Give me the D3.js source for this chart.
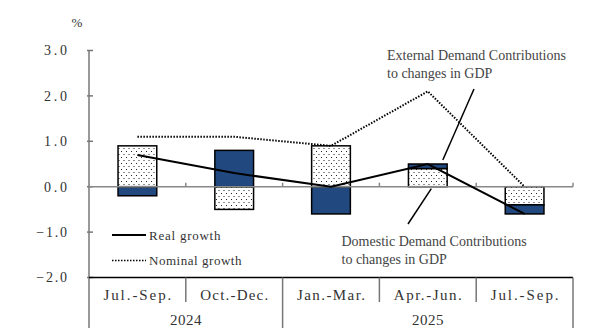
<!DOCTYPE html>
<html>
<head>
<meta charset="utf-8">
<script src="https://cdn.jsdelivr.net/npm/d3@7"></script>
<style>
  body { margin: 0; background: #fff; }
  text { font-family: "Liberation Serif", "DejaVu Serif", serif; fill: #333; }
</style>
</head>
<body>
<svg id="chart"></svg>
<script>
// quarters and years
var quarters = ["Jul.-Sep.", "Oct.-Dec.", "Jan.-Mar.", "Apr.-Jun.", "Jul.-Sep."];
var years = [{ label: "2024", from: 0, to: 2 }, { label: "2025", from: 2, to: 5 }];

// contributions (% points) and growth rates (%)
var domestic = [0.9, -0.5, 0.9, 0.4, -0.4];
var external = [-0.2, 0.8, -0.6, 0.1, -0.2];
var realGrowth = [0.7, 0.3, 0.0, 0.5, -0.6];
var nominalGrowth = [1.1, 1.1, 0.9, 2.1, 0.0];

var yTicks = [3, 2, 1, 0, -1, -2];

var width = 613, height = 336;
var margin = { top: 50.5, left: 89, right: 40, bottom: 58.5 };

var svg = d3.select("#chart").attr("width", width).attr("height", height);

var defs = svg.append("defs");
var pat = defs.append("pattern")
    .attr("id", "dots")
    .attr("patternUnits", "userSpaceOnUse")
    .attr("width", 5).attr("height", 6);
pat.append("rect").attr("width", 5).attr("height", 6).attr("fill", "#fff");
pat.append("rect").attr("x", 1).attr("y", 1).attr("width", 1).attr("height", 1).attr("fill", "#222");
pat.append("rect").attr("x", 3.5).attr("y", 4).attr("width", 1).attr("height", 1).attr("fill", "#222");

var rows = quarters.map((q, i) => ({ idx: i, domestic: domestic[i], external: external[i] }));

var x = d3.scaleBand()
    .domain(d3.range(quarters.length))
    .range([margin.left, width - margin.right])
    .paddingInner(0).paddingOuter(0);

var y = d3.scaleLinear()
    .domain([-2, 3])
    .range([height - margin.bottom, margin.top]);

var stacked = d3.stack()
    .keys(["domestic", "external"])
    .offset(d3.stackOffsetDiverging)(rows);

var fills = { domestic: "url(#dots)", external: "#21497f" };

// y axis
var yAxis = d3.axisLeft(y).tickValues(yTicks).tickSize(0).tickFormat(d => "");
svg.append("g")
    .attr("transform", "translate(" + margin.left + ",0)")
    .call(yAxis)
    .call(g => g.select(".domain").remove());

svg.append("line")
    .attr("x1", margin.left).attr("x2", margin.left)
    .attr("y1", y(3)).attr("y2", 328)
    .attr("stroke", "#777").attr("stroke-width", 1.5);

svg.selectAll(".ytick").data(yTicks).enter().append("line")
    .attr("x1", margin.left - 2).attr("x2", margin.left + 4)
    .attr("y1", d => y(d)).attr("y2", d => y(d))
    .attr("stroke", "#777").attr("stroke-width", 1.5);

svg.selectAll(".ylab").data(yTicks).enter().append("text")
    .attr("x", 67)
    .attr("y", d => y(d))
    .attr("dy", "0.35em")
    .attr("text-anchor", "end")
    .style("font-size", "14px")
    .attr("textLength", d => (d < 0 ? 4 : 3) * 7.7)
    .attr("lengthAdjust", "spacing")
    .text(d => (d < 0 ? "\u2212" : "") + Math.abs(d).toFixed(1));

svg.append("text")
    .attr("x", 77).attr("y", 22)
    .attr("dy", "0.35em")
    .attr("text-anchor", "middle")
    .style("font-size", "13px")
    .text("%");

// bars
svg.append("g").selectAll("g.layer")
    .data(stacked)
    .enter().append("g")
    .attr("class", "layer")
    .attr("fill", d => fills[d.key])
    .selectAll("rect")
    .data(d => d)
    .enter().append("rect")
    .attr("x", d => x(d.data.idx) + x.bandwidth() * 0.3)
    .attr("width", x.bandwidth() * 0.4)
    .attr("y", d => y(Math.max(d[0], d[1])))
    .attr("height", d => Math.abs(y(d[0]) - y(d[1])))
    .attr("stroke", "#000")
    .attr("stroke-width", 1.5);

// zero line with upward ticks
svg.append("line")
    .attr("x1", margin.left).attr("x2", width - margin.right)
    .attr("y1", y(0)).attr("y2", y(0))
    .attr("stroke", "#888").attr("stroke-width", 1.5);
svg.selectAll(".zt").data(d3.range(1, quarters.length + 1)).enter().append("line")
    .attr("x1", i => x(i - 1) + x.bandwidth()).attr("x2", i => x(i - 1) + x.bandwidth())
    .attr("y1", y(0)).attr("y2", y(0) - 4)
    .attr("stroke", "#888").attr("stroke-width", 1.5);

// growth lines
var lineGen = d3.line()
    .x((d, i) => x(i) + x.bandwidth() / 2)
    .y(d => y(d));

svg.append("path")
    .datum(nominalGrowth)
    .attr("d", lineGen)
    .attr("fill", "none")
    .attr("stroke", "#000")
    .attr("stroke-width", 2)
    .attr("stroke-dasharray", "1.5,1.5");

svg.append("path")
    .datum(realGrowth)
    .attr("d", lineGen)
    .attr("fill", "none")
    .attr("stroke", "#000")
    .attr("stroke-width", 2);

// bottom category table
var base = y(-2);
svg.append("line")
    .attr("x1", margin.left).attr("x2", width - margin.right)
    .attr("y1", base).attr("y2", base)
    .attr("stroke", "#000").attr("stroke-width", 1.5);

var yearEdges = [0, 2, 5];
svg.selectAll(".sep").data(d3.range(1, quarters.length + 1)).enter().append("line")
    .attr("x1", i => x(i - 1) + x.bandwidth()).attr("x2", i => x(i - 1) + x.bandwidth())
    .attr("y1", base)
    .attr("y2", i => yearEdges.includes(i) ? 328 : 302)
    .attr("stroke", "#777").attr("stroke-width", 1.5);

svg.selectAll(".qlab").data(quarters).enter().append("text")
    .attr("x", (d, i) => x(i) + x.bandwidth() / 2)
    .attr("y", 295)
    .attr("dy", "0.35em")
    .attr("text-anchor", "middle")
    .style("font-size", "15px")
    .attr("textLength", d => d.length * 7.55)
    .attr("lengthAdjust", "spacing")
    .text(d => d);

svg.selectAll(".ylabel").data(years).enter().append("text")
    .attr("x", d => (x(d.from) + x(d.to - 1) + x.bandwidth()) / 2)
    .attr("y", 320)
    .attr("dy", "0.35em")
    .attr("text-anchor", "middle")
    .style("font-size", "15px")
    .attr("textLength", 31.5)
    .attr("lengthAdjust", "spacing")
    .text(d => d.label);

// legend
var legend = [
  { label: "Real growth", dash: null, yy: 235, len: 71.5 },
  { label: "Nominal growth", dash: "1.5,1.5", yy: 260.5, len: 92.5 }
];
legend.forEach(l => {
  svg.append("line")
      .attr("x1", 112).attr("x2", 146)
      .attr("y1", l.yy).attr("y2", l.yy)
      .attr("stroke", "#000")
      .attr("stroke-width", l.dash ? 1.5 : 2)
      .attr("stroke-dasharray", l.dash);
  svg.append("text")
      .attr("x", 149).attr("y", l.yy)
      .attr("dy", "0.35em")
      .style("font-size", "13px")
      .attr("textLength", l.len)
      .attr("lengthAdjust", "spacing")
      .text(l.label);
});

// annotations
var notes = [
  { lines: ["External  Demand Contributions", "to changes in GDP"], tx: 387, ty: 60,
    from: [474, 89], toIdx: 3, toVal: 0.5, toDx: 15, toDy: -4 },
  { lines: ["Domestic Demand Contributions", "to changes in GDP"], tx: 341.5, ty: 246,
    from: [408, 224], toIdx: 3, toVal: 0.0, toDx: 3.5, toDy: 2 }
];
notes.forEach(n => {
  var t = svg.append("text").attr("x", n.tx).attr("y", n.ty)
      .style("font-size", "14px").style("fill", "#444");
  n.lines.forEach((s, i) => {
    t.append("tspan").attr("x", n.tx).attr("dy", i ? 18 : 0).text(s);
  });
  svg.append("line")
      .attr("x1", n.from[0]).attr("y1", n.from[1])
      .attr("x2", x(n.toIdx) + x.bandwidth() / 2 + n.toDx)
      .attr("y2", y(n.toVal) + n.toDy)
      .attr("stroke", "#000").attr("stroke-width", 1.5);
});
</script>
</body>
</html>
